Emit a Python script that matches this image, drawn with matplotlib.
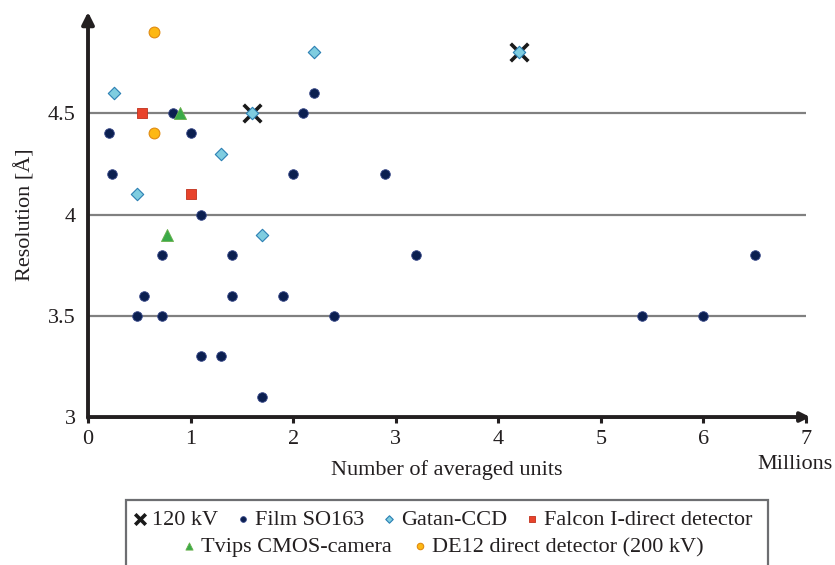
import matplotlib
matplotlib.use('Agg')
import matplotlib.pyplot as plt
from matplotlib.patches import Rectangle

plt.rcParams['font.family'] = ['Liberation Serif', 'DejaVu Serif']

# data, millions of averaged units vs resolution (A)
kv120_x = [1.6, 4.2]
kv120_y = [4.5, 4.8]
film_x = [0.2, 0.23, 0.83, 1.0, 1.1, 2.1, 2.2, 2.0, 2.9, 0.72, 1.4, 3.2, 6.5,
          0.55, 1.4, 1.9, 0.48, 0.72, 2.4, 5.4, 6.0, 1.1, 1.3, 1.7]
film_y = [4.4, 4.2, 4.5, 4.4, 4.0, 4.5, 4.6, 4.2, 4.2, 3.8, 3.8, 3.8, 3.8,
          3.6, 3.6, 3.6, 3.5, 3.5, 3.5, 3.5, 3.5, 3.3, 3.3, 3.1]
gatan_x = [0.25, 2.2, 1.3, 0.48, 1.7, 1.6, 4.2]
gatan_y = [4.6, 4.8, 4.3, 4.1, 3.9, 4.5, 4.8]
falcon_x = [0.53, 1.0]
falcon_y = [4.5, 4.1]
tvips_x = [0.9, 0.77]
tvips_y = [4.5, 3.9]
de12_x = [0.64, 0.64]
de12_y = [4.9, 4.4]

xticks = [0, 1, 2, 3, 4, 5, 6, 7]
yticks = [3, 3.5, 4, 4.5]

ink = '#231f20'
fs = 16

fig = plt.figure(figsize=(8.35, 5.65), dpi=100)
ax = fig.add_axes([0.1054, 0.2619, 0.8599, 0.7169])
ax.set_xlim(0, 7)
ax.set_ylim(3, 5)

for y in yticks[1:]:
    ax.axhline(y, color='#808080', lw=1.6, zorder=1)

# axes drawn as arrows
ax.annotate('', xy=(7.04, 3), xytext=(0, 3), xycoords='data',
            arrowprops=dict(arrowstyle='-|>', lw=2.8, color=ink,
                            mutation_scale=14, shrinkA=0, shrinkB=0),
            annotation_clip=False, zorder=5)
ax.annotate('', xy=(0, 5.0), xytext=(0, 2.995), xycoords='data',
            arrowprops=dict(arrowstyle='-|>', lw=2.8, color=ink,
                            mutation_scale=18, shrinkA=0, shrinkB=0),
            annotation_clip=False, zorder=5)
for s in ax.spines.values():
    s.set_visible(False)

h_film = ax.scatter(film_x, film_y, s=48, marker='o', color='#0b1f50',
                    edgecolors='#3a4a8a', linewidths=0.6, zorder=3, label='Film SO163')
h_gatan = ax.scatter(gatan_x, gatan_y, s=40, marker='D', color='#7fcde0',
                     edgecolors='#2b7fb3', linewidths=0.8, zorder=3, label='Gatan-CCD')
h_falcon = ax.scatter(falcon_x, falcon_y, s=55, marker='s', color='#e8432b',
                      edgecolors='#c0301c', linewidths=0.6, zorder=3, label='Falcon I-direct detector')
h_tvips = ax.scatter(tvips_x, tvips_y, s=75, marker='^', color='#3aaa48',
                     edgecolors='#6ab04c', linewidths=0.6, zorder=3, label='Tvips CMOS-camera')
h_de12 = ax.scatter(de12_x, de12_y, s=60, marker='o', color='#fdb813',
                    edgecolors='#e08a10', linewidths=0.8, zorder=3, label='DE12 direct detector (200 kV)')
h_kv = ax.scatter(kv120_x, kv120_y, s=160, marker='x', color='#1a1a1a',
                  linewidths=2.6, zorder=2, label='120 kV')

ax.set_xticks(xticks)
ax.set_yticks(yticks)
ax.set_yticklabels(['3', '3.5', '4', '4.5'])
ax.tick_params(axis='x', direction='out', length=4, width=2.2, color=ink,
               labelsize=fs, pad=5, labelcolor=ink)
ax.tick_params(axis='y', length=0, labelsize=fs, pad=9, labelcolor=ink)

ax.set_xlabel('Number of averaged units', fontsize=fs, color=ink)
ax.xaxis.label.set_va('center')
ax.xaxis.set_label_coords(0.5, -0.13)
ax.set_ylabel('Resolution [Å]', fontsize=fs, color=ink)
ax.yaxis.label.set_va('center')
ax.yaxis.set_label_coords(-0.088, 0.5)
fig.text(0.952, 0.178, 'Millions', fontsize=fs, color=ink, ha='center', va='center')

# legend box, rows centred separately
fig.patches.append(Rectangle((126 / 835, -0.05), (768 - 126) / 835, 0.115 + 0.05,
                             transform=fig.transFigure, fill=False,
                             edgecolor='#6d6e71', lw=1.6))
leg1 = fig.legend(handles=[h_kv, h_film, h_gatan, h_falcon], loc='center',
                  bbox_to_anchor=(0.531, 0.0796), ncol=4, frameon=False,
                  fontsize=fs, markerscale=0.6, handlelength=0.5,
                  handletextpad=0.3, columnspacing=0.85, borderpad=0)
leg2 = fig.legend(handles=[h_tvips, h_de12], loc='center',
                  bbox_to_anchor=(0.531, 0.0319), ncol=2, frameon=False,
                  fontsize=fs, markerscale=0.6, handlelength=0.5,
                  handletextpad=0.3, columnspacing=1.0, borderpad=0)
for leg in (leg1, leg2):
    for t in leg.get_texts():
        t.set_color(ink)

fig.savefig('out.png', dpi=100)
